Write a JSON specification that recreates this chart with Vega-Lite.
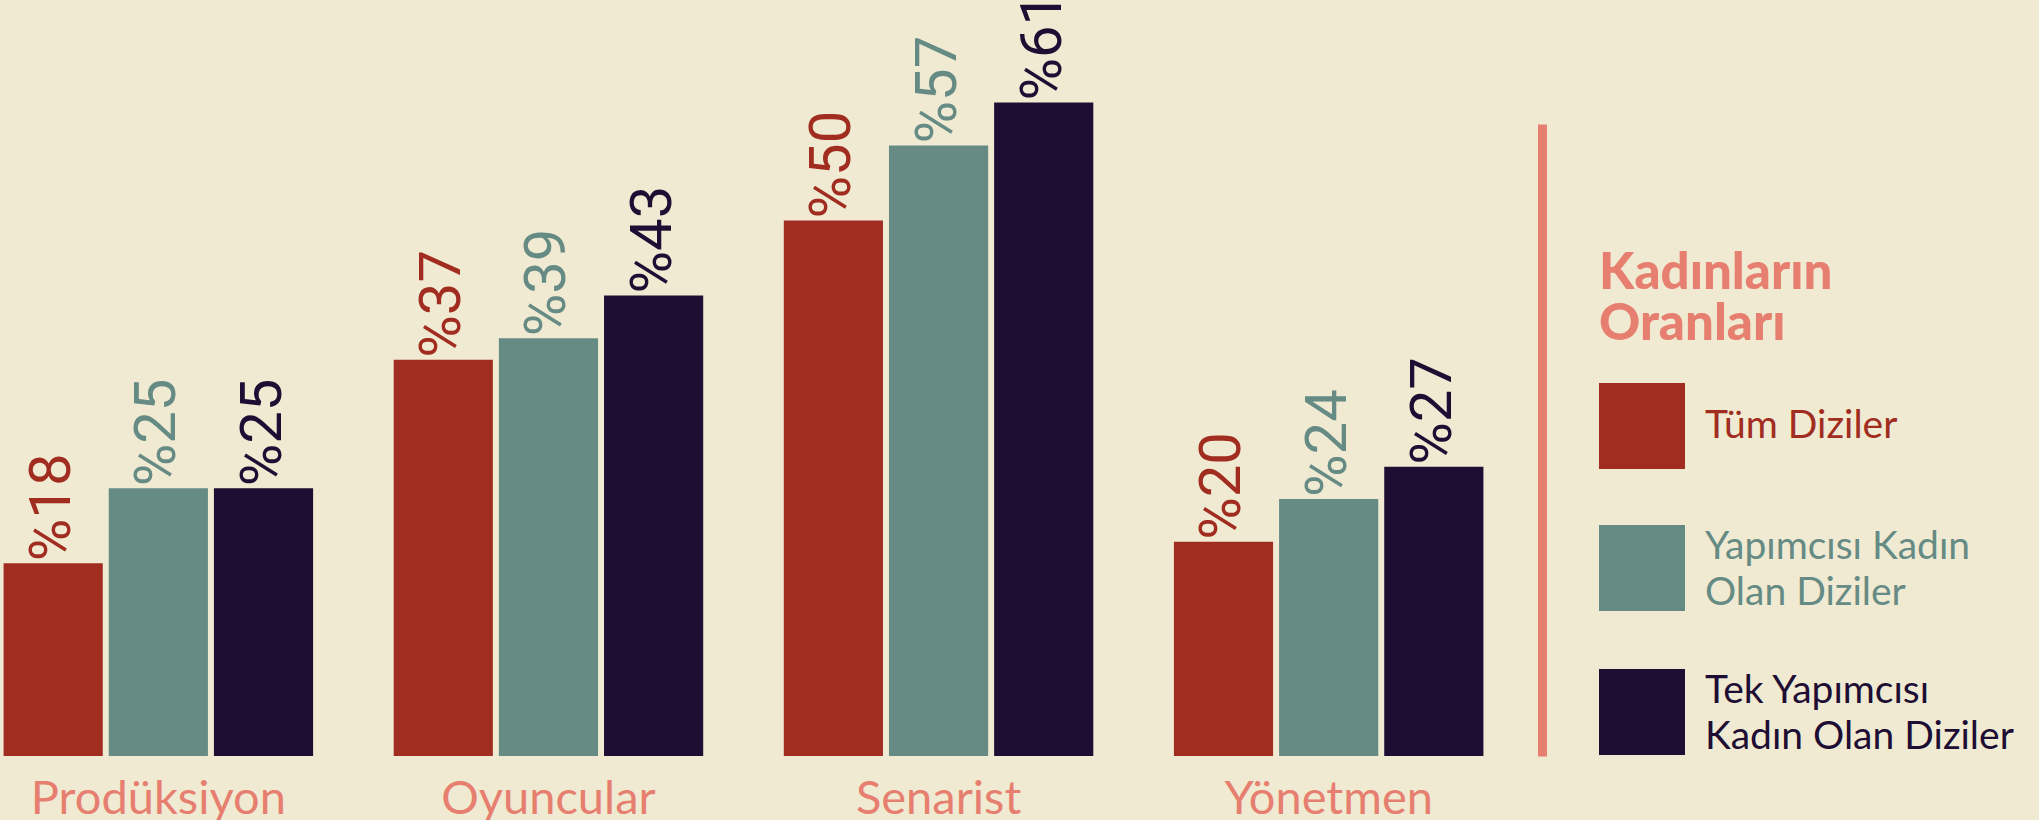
{
  "$schema": "https://vega.github.io/schema/vega-lite/v6.json",
  "width": 1487,
  "height": 632,
  "autosize": {"type": "none"},
  "padding": {"left": 0, "top": 124, "right": 552, "bottom": 64},
  "background": "#f0ead2",
  "config": {"view": {"stroke": null}, "font": "Lato"},
  "data": {
    "values": [
      {"meslek": "Prodüksiyon", "seri": "Tüm Diziler", "oran": 18, "etiket": "%18"},
      {"meslek": "Prodüksiyon", "seri": "Yapımcısı Kadın Olan Diziler", "oran": 25, "etiket": "%25"},
      {"meslek": "Prodüksiyon", "seri": "Tek Yapımcısı Kadın Olan Diziler", "oran": 25, "etiket": "%25"},
      {"meslek": "Oyuncular", "seri": "Tüm Diziler", "oran": 37, "etiket": "%37"},
      {"meslek": "Oyuncular", "seri": "Yapımcısı Kadın Olan Diziler", "oran": 39, "etiket": "%39"},
      {"meslek": "Oyuncular", "seri": "Tek Yapımcısı Kadın Olan Diziler", "oran": 43, "etiket": "%43"},
      {"meslek": "Senarist", "seri": "Tüm Diziler", "oran": 50, "etiket": "%50"},
      {"meslek": "Senarist", "seri": "Yapımcısı Kadın Olan Diziler", "oran": 57, "etiket": "%57"},
      {"meslek": "Senarist", "seri": "Tek Yapımcısı Kadın Olan Diziler", "oran": 61, "etiket": "%61"},
      {"meslek": "Yönetmen", "seri": "Tüm Diziler", "oran": 20, "etiket": "%20"},
      {"meslek": "Yönetmen", "seri": "Yapımcısı Kadın Olan Diziler", "oran": 24, "etiket": "%24"},
      {"meslek": "Yönetmen", "seri": "Tek Yapımcısı Kadın Olan Diziler", "oran": 27, "etiket": "%27"}
    ]
  },
  "encoding": {
    "x": {
      "field": "meslek",
      "type": "nominal",
      "sort": null,
      "scale": {"domain": ["Prodüksiyon", "Oyuncular", "Senarist", "Yönetmen"], "paddingInner": 0.2066, "paddingOuter": 0.0092},
      "axis": {
        "title": null,
        "domain": false,
        "ticks": false,
        "tickSize": 0,
        "labelAngle": 0,
        "labelFont": "Lato",
        "labelFontSize": 47,
        "labelColor": "#e67f6f",
        "labelBaseline": "alphabetic",
        "labelPadding": 57,
        "labelLimit": 600
      }
    },
    "xOffset": {
      "field": "seri",
      "type": "nominal",
      "sort": null,
      "scale": {"domain": ["Tüm Diziler", "Yapımcısı Kadın Olan Diziler", "Tek Yapımcısı Kadın Olan Diziler"], "paddingInner": 0.057, "paddingOuter": 0}
    },
    "y": {
      "field": "oran",
      "type": "quantitative",
      "scale": {"domain": [0, 59], "nice": false, "zero": true},
      "axis": {
        "orient": "right",
        "offset": 55,
        "title": null,
        "labels": false,
        "ticks": false,
        "grid": false,
        "domain": true,
        "domainColor": "#e67f6f",
        "domainWidth": 9,
        "domainCap": "butt"
      }
    },
    "color": {
      "field": "seri",
      "type": "nominal",
      "sort": null,
      "scale": {
        "domain": ["Tüm Diziler", "Yapımcısı Kadın Olan Diziler", "Tek Yapımcısı Kadın Olan Diziler"],
        "range": ["#a12d21", "#668b84", "#1e0e33"]
      },
      "legend": {
        "orient": "none",
        "legendX": 1599,
        "legendY": 125,
        "padding": 0,
        "title": ["Kadınların", "Oranları"],
        "titleFont": "Lato",
        "titleFontSize": 51,
        "titleFontWeight": 900,
        "titleColor": "#e67f6f",
        "titleLineHeight": 51,
        "titlePadding": 32,
        "titleLimit": 600,
        "symbolType": "square",
        "symbolSize": 7396,
        "symbolStrokeWidth": 0,
        "symbolOpacity": 1,
        "labelFont": "Lato",
        "labelFontSize": 39,
        "labelLimit": 600,
        "labelOffset": 20,
        "rowPadding": 56,
        "labelExpr": "datum.label == 'Tüm Diziler' ? 'Tüm Diziler' : (datum.label == 'Yapımcısı Kadın Olan Diziler' ? ['Yapımcısı Kadın', 'Olan Diziler'] : ['Tek Yapımcısı', 'Kadın Olan Diziler'])",
        "encode": {
          "labels": {"update": {"fill": {"scale": "color", "field": "value"}, "lineHeight": {"value": 46}, "dy": {"signal": "datum.value == 'Tüm Diziler' ? 0 : -21"}}},
          "symbols": {"update": {"fill": {"scale": "color", "field": "value"}, "fillOpacity": {"value": 1}, "strokeWidth": {"value": 0}, "opacity": {"value": 1}}}
        }
      }
    }
  },
  "layer": [
    {"mark": {"type": "bar"}},
    {
      "mark": {"type": "text", "angle": 270, "align": "left", "baseline": "middle", "dx": 2, "fontSize": 58, "font": "Roboto"},
      "encoding": {"text": {"field": "etiket", "type": "nominal"}}
    }
  ]
}
